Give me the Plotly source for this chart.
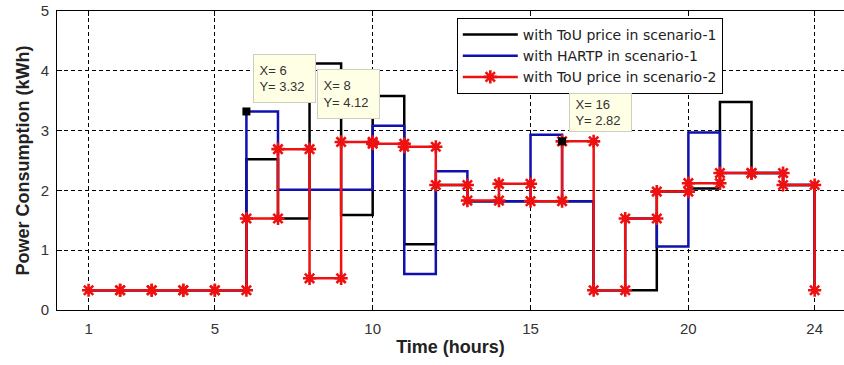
import plotly.graph_objects as go

hours = list(range(1, 25))

tou_s1 = [0.33, 0.33, 0.33, 0.33, 0.33, 2.52, 1.53, 4.12, 1.59, 3.58, 1.10, 2.09,
          1.82, 1.82, 1.82, 1.82, 0.33, 0.33, 1.98, 2.03, 3.48, 2.29, 2.09, 0.33]
hartp_s1 = [0.33, 0.33, 0.33, 0.33, 0.33, 3.32, 2.01, 2.01, 2.01, 3.08, 0.60, 2.32,
            1.82, 1.82, 2.93, 1.82, 0.33, 1.53, 1.06, 2.97, 2.29, 2.29, 2.09, 0.33]
tou_s2 = [0.33, 0.33, 0.33, 0.33, 0.33, 1.53, 2.69, 0.53, 2.81, 2.78, 2.73, 2.09,
          1.83, 2.11, 1.82, 2.82, 0.33, 1.53, 1.98, 2.12, 2.29, 2.29, 2.09, 0.33]

series_names = ["with ToU price in scenario-1", "with HARTP in scenario-1",
                "with ToU price in scenario-2"]

tip_x = [6, 8, 16]
tip_y = [3.32, 4.12, 2.82]

x_ticks = [1, 5, 10, 15, 20, 24]
y_ticks = [0, 1, 2, 3, 4, 5]


def stairs(x, y):
    xs, ys = [], []
    for i in range(len(x)):
        if i > 0:
            xs.append(x[i])
            ys.append(y[i - 1])
        xs.append(x[i])
        ys.append(y[i])
    return xs, ys


BLACK = "#000000"
BLUE = "#1010b0"
RED = "#ee1111"
FONT = "Liberation Sans, Arial, sans-serif"

fig = go.Figure()

bx, by = stairs(hours, tou_s1)
fig.add_trace(go.Scatter(x=bx, y=by, mode="lines", name=series_names[0],
                         line=dict(color=BLACK, width=2.5)))
ux, uy = stairs(hours, hartp_s1)
fig.add_trace(go.Scatter(x=ux, y=uy, mode="lines", name=series_names[1],
                         line=dict(color=BLUE, width=2.5)))
rx, ry = stairs(hours, tou_s2)
fig.add_trace(go.Scatter(x=rx, y=ry, mode="lines+markers", name=series_names[2],
                         line=dict(color=RED, width=2.5),
                         marker=dict(symbol="asterisk-open", size=11, color=RED,
                                     line=dict(color=RED, width=2.6))))
fig.add_trace(go.Scatter(x=tip_x, y=tip_y, mode="markers", showlegend=False,
                         hoverinfo="skip",
                         marker=dict(symbol="square", size=8, color="black")))

# data tips
tip_layout = [
    dict(yanchor="bottom", yshift=8, height=43),
    dict(yanchor="top", yshift=-5, height=44),
    dict(yanchor="bottom", yshift=9, height=33),
]
for tx, ty, lay in zip(tip_x, tip_y, tip_layout):
    fig.add_annotation(
        x=tx, y=ty, xref="x", yref="y", showarrow=False,
        text=f" X= {tx}<br> Y= {ty:.2f}", align="left",
        xanchor="left", yanchor=lay["yanchor"], xshift=7, yshift=lay["yshift"],
        width=57, height=lay["height"], valign="middle",
        bgcolor="#ffffe6", bordercolor="#cfcfbf", borderwidth=1, borderpad=2,
        font=dict(family=FONT, size=13, color="#333333"),
    )

grid = dict(showgrid=True, gridcolor="#000000", gridwidth=1, griddash="4px,3px")

fig.update_layout(
    width=844, height=365,
    margin=dict(l=57, r=0, t=11, b=55),
    paper_bgcolor="white", plot_bgcolor="white",
    font=dict(family=FONT, size=15, color="#333333"),
    showlegend=True,
    legend=dict(x=0.508, y=0.977, xanchor="left", yanchor="top",
                bgcolor="white", bordercolor="black", borderwidth=1,
                font=dict(family="DejaVu Sans, sans-serif", size=14, color="#222222"),
                itemwidth=55, tracegroupgap=0),
    xaxis=dict(range=[0, 24.93], tickvals=x_ticks, ticks="inside", ticklen=5,
               tickcolor="black", showline=True, linecolor="black", linewidth=1,
               mirror="ticks", zeroline=False, ticklabelstandoff=5,
               title=dict(text="<b>Time (hours)</b>", font=dict(size=18, color="#222222"),
                          standoff=4),
               **grid),
    yaxis=dict(range=[0, 5], tickvals=y_ticks, ticks="inside", ticklen=5,
               tickcolor="black", showline=True, linecolor="black", linewidth=1,
               mirror=False, zeroline=False, ticklabelstandoff=4,
               title=dict(text="<b>Power Consumption (kWh)</b>",
                          font=dict(size=18, color="#222222"), standoff=6),
               **grid),
)

fig.write_html("out.html")
